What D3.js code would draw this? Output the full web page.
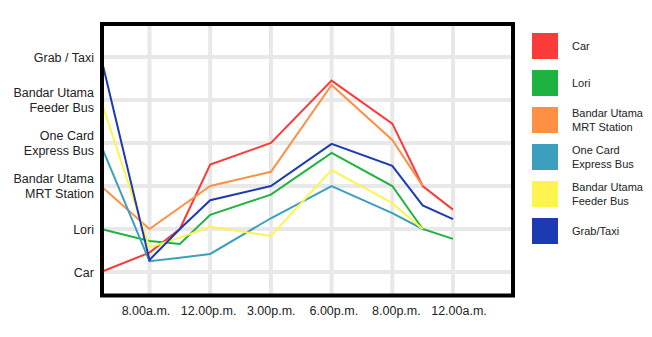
<!DOCTYPE html>
<html>
<head>
<meta charset="utf-8">
<script src="https://cdn.jsdelivr.net/npm/d3@7"></script>
<style>
  body { margin: 0; background: #fff; }
  svg { display: block; font-family: "Liberation Sans", Arial, sans-serif; }
</style>
</head>
<body>
<div id="chart"></div>
<script>
// time slots (1 = 8.00a.m. ... 6 = 12.00a.m.), plus in-between points
var slots = [0.2, 1, 1.5, 2, 3, 4, 5, 5.5, 6];
var timeLabels = ["8.00a.m.", "12.00p.m.", "3.00p.m.", "6.00p.m.", "8.00p.m.", "12.00a.m."];
var modeLabels = [["Car"], ["Lori"], ["Bandar Utama", "MRT Station"], ["One Card", "Express Bus"], ["Bandar Utama", "Feeder Bus"], ["Grab / Taxi"]];

var seriesNames = [["Car"], ["Lori"], ["Bandar Utama", "MRT Station"], ["One Card", "Express Bus"], ["Bandar Utama", "Feeder Bus"], ["Grab/Taxi"]];
var seriesColors = ["#fb3a3a", "#1eb33e", "#ff8f42", "#3c9fbd", "#fff352", "#1c3bb2"];

var car     = [0.0, 0.45, 1.0, 2.5, 3.0, 4.45, 3.45, 2.0, 1.45];
var lori    = [1.0, 0.72, 0.65, 1.33, 1.8, 2.77, 2.0, 1.0, 0.77];
var mrt     = [2.0, 1.0, 1.5, 2.0, 2.33, 4.35, 3.07, 2.0, null];
var oneCard = [2.95, 0.25, 0.33, 0.42, 1.25, 2.0, 1.37, 1.0, null];
var feeder  = [4.0, 0.57, 0.8, 1.05, 0.84, 2.37, 1.6, 1.0, null];
var grab    = [5.0, 0.28, 1.0, 1.67, 2.0, 2.98, 2.47, 1.55, 1.23];

var allSeries = [car, lori, mrt, oneCard, feeder, grab];

var width = 652, height = 337;

var svg = d3.select("#chart").append("svg")
    .attr("width", width)
    .attr("height", height);

var x = d3.scaleLinear().domain([1, 6]).range([149.5, 453]);
var y = d3.scaleLinear().domain([0, 5]).range([272, 57]);
var labelX = d3.scaleLinear().domain([1, 6]).range([146, 459]);

var frame = { left: 102, right: 513, top: 24, bottom: 295.5 };

// plot background
svg.append("rect")
    .attr("x", frame.left).attr("y", frame.top)
    .attr("width", frame.right - frame.left)
    .attr("height", frame.bottom - frame.top)
    .attr("fill", "#fff");

// grid
svg.append("g").selectAll("line")
    .data(d3.range(1, 7))
    .enter().append("line")
    .attr("x1", d => x(d)).attr("x2", d => x(d))
    .attr("y1", frame.top).attr("y2", frame.bottom)
    .attr("stroke", "#e8e8e8").attr("stroke-width", 4);

svg.append("g").selectAll("line")
    .data(d3.range(0, 6))
    .enter().append("line")
    .attr("x1", frame.left).attr("x2", frame.right)
    .attr("y1", d => y(d)).attr("y2", d => y(d))
    .attr("stroke", "#e8e8e8").attr("stroke-width", 4);

// lines
var line = d3.line()
    .defined(d => d != null)
    .x((d, i) => x(slots[i]))
    .y(d => y(d));

svg.append("g").selectAll("path")
    .data(allSeries)
    .enter().append("path")
    .attr("d", line)
    .attr("fill", "none")
    .attr("stroke", (d, i) => seriesColors[i])
    .attr("stroke-width", 2)
    .attr("stroke-linejoin", "miter");

// frame
svg.append("rect")
    .attr("x", frame.left).attr("y", frame.top)
    .attr("width", frame.right - frame.left)
    .attr("height", frame.bottom - frame.top)
    .attr("fill", "none")
    .attr("stroke", "#000")
    .attr("stroke-width", 4);

// y labels
var yLab = svg.append("g").selectAll("text")
    .data(modeLabels)
    .enter().append("text")
    .attr("text-anchor", "end")
    .attr("font-size", "12.5px")
    .attr("fill", "#222");

yLab.each(function(d, i) {
    var t = d3.select(this);
    var cy = y(i);
    var start = cy - (d.length - 1) * 15 / 2;
    d.forEach(function(s, j) {
        t.append("tspan")
            .attr("x", 94)
            .attr("y", start + j * 15 + 4.5)
            .text(s);
    });
});

// x labels
svg.append("g").selectAll("text")
    .data(timeLabels)
    .enter().append("text")
    .attr("x", (d, i) => labelX(i + 1))
    .attr("y", 315)
    .attr("text-anchor", "middle")
    .attr("font-size", "12.5px")
    .attr("fill", "#222")
    .text(d => d);

// legend
var legend = svg.append("g").selectAll("g")
    .data(seriesNames)
    .enter().append("g")
    .attr("transform", (d, i) => "translate(532," + (33 + i * 37) + ")");

legend.append("rect")
    .attr("width", 26).attr("height", 26)
    .attr("fill", (d, i) => seriesColors[i]);

legend.append("text")
    .attr("font-size", "11px")
    .attr("fill", "#222")
    .each(function(d) {
        var t = d3.select(this);
        var start = 13 - (d.length - 1) * 14 / 2;
        d.forEach(function(s, j) {
            t.append("tspan")
                .attr("x", 40)
                .attr("y", start + j * 14 + 4)
                .text(s);
        });
    });
</script>
</body>
</html>
